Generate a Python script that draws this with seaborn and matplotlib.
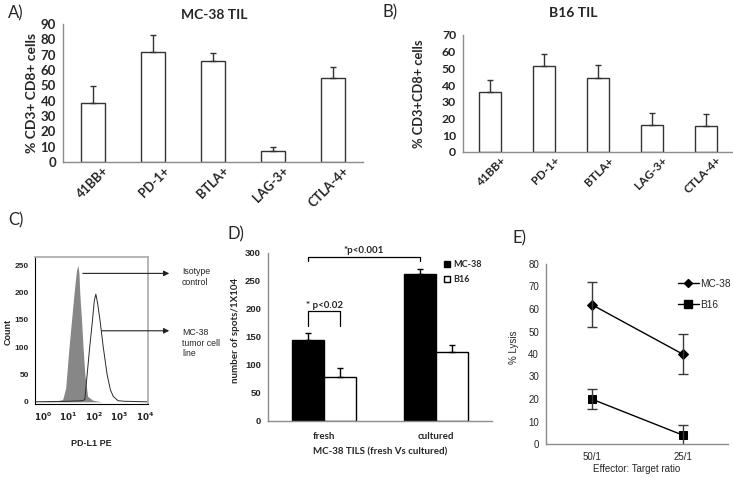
import numpy as np
import pandas as pd
import matplotlib
matplotlib.use("Agg")
import matplotlib.pyplot as plt
import matplotlib.transforms as mtransforms
import seaborn as sns
from matplotlib.lines import Line2D

# A) MC-38 TIL
markers = ["41BB+", "PD-1+", "BTLA+", "LAG-3+", "CTLA-4+"]
mc38_til_pct = [38.5, 72, 66, 7, 55]
mc38_til_err = [11, 11, 5, 2.5, 7]

# B) B16 TIL
b16_til_pct = [36, 51.5, 44.5, 16, 15.5]
b16_til_err = [7, 7, 7.5, 7.5, 7.5]

# C) PD-L1 flow histogram (log10 decade, count)
iso_x = [-0.3, 0.5, 0.78, 0.9, 1.03, 1.13, 1.23, 1.32, 1.38, 1.42, 1.45, 1.52, 1.58, 1.65, 1.76, 1.96, 2.3, 4.1]
iso_count = [0, 1, 4, 25, 100, 150, 200, 240, 250, 235, 200, 150, 100, 50, 10, 3, 0, 0]
pdl1_x = [-0.3, 1.0, 1.55, 1.65, 1.74, 1.84, 1.95, 2.02, 2.08, 2.15, 2.24, 2.37, 2.52, 2.65, 2.76, 2.95, 3.2, 4.1]
pdl1_count = [0, 1, 2, 4, 50, 100, 150, 185, 197, 180, 150, 100, 50, 22, 10, 2, 1, 0]

# D) ELISPOT, MC-38 TILs
tils = ["fresh", "cultured"]
spots_mc38 = [145, 262]
spots_mc38_err = [13, 10]
spots_b16 = [79, 123]
spots_b16_err = [15, 13]

# E) cytotoxicity
ratios = ["50/1", "25/1"]
lysis_mc38 = [62, 40]
lysis_mc38_err = [10, 9]
lysis_b16 = [20, 4]
lysis_b16_err = [4.5, 4.5]

AXIS_GREY = "#8c8c8c"
BAR_EDGE = "#333333"
ARIAL = ["Liberation Sans", "DejaVu Sans"]

sns.set_style("white")
plt.rcParams["font.family"] = ["Lato", "DejaVu Sans"]

fig = plt.figure(figsize=(7.33, 4.78), dpi=100)
W, H = 733, 478


def add_axes(x0, x1, y_top, y_bottom):
    # pixel box -> figure fraction
    return fig.add_axes([x0 / W, 1 - y_bottom / H, (x1 - x0) / W, (y_bottom - y_top) / H])


def excel_xaxis(ax, labels, pad, **text_kw):
    n = len(labels)
    ax.set_xlim(-0.5, n - 0.5)
    ax.set_xticks(np.arange(-0.5, n), labels=[])
    ax.tick_params(axis="x", which="major", length=4, width=0.8, color=AXIS_GREY, direction="out")
    ax.tick_params(axis="x", which="minor", length=0, pad=pad)
    ax.set_xticks(np.arange(n), labels=labels, minor=True, **text_kw)


def grey_spines(ax):
    for side in ["top", "right"]:
        ax.spines[side].set_visible(False)
    for side in ["left", "bottom"]:
        ax.spines[side].set_color(AXIS_GREY)
        ax.spines[side].set_linewidth(1)
    ax.tick_params(axis="y", length=3, width=0.8, color=AXIS_GREY, direction="out", pad=2)


def y_ticks(ax, ticks, **text_kw):
    ax.set_yticks(ticks, labels=[str(t) for t in ticks], **text_kw)


def til_panel(ax, values, errors, ymax, ylabel, fs):
    sns.barplot(x=markers, y=values, color="white", edgecolor=BAR_EDGE, linewidth=1,
                width=0.4, saturation=1, ax=ax)
    centers = [p.get_x() + p.get_width() / 2 for p in ax.patches]
    ax.errorbar(centers, values, yerr=[np.zeros(len(values)), errors], fmt="none",
                ecolor=BAR_EDGE, elinewidth=1, capsize=2.5, capthick=1)
    ax.set_ylim(0, ymax)
    grey_spines(ax)
    y_ticks(ax, list(range(0, ymax + 1, 10)), fontsize=fs, fontweight="bold")
    excel_xaxis(ax, markers, 2, rotation=45, ha="right", va="top", rotation_mode="anchor",
                fontsize=fs - 0.3, fontweight="bold")
    # nudge the slanted labels so they end at the category centre
    shift = mtransforms.ScaledTranslation(7 / 72, 0, fig.dpi_scale_trans)
    for lab in ax.get_xticklabels(minor=True):
        lab.set_transform(lab.get_transform() + shift)
    ax.set_xlabel("")
    ax.set_ylabel(ylabel, fontsize=fs + 0.5, fontweight="bold")


# ---- A ----
ax_a = add_axes(63, 363, 24, 162)
til_panel(ax_a, mc38_til_pct, mc38_til_err, 90, "% CD3+ CD8+ cells", 9.5)
ax_a.yaxis.set_label_coords(-0.085, 0.5)
fig.text(214 / W, 1 - 15 / H, "MC-38 TIL", ha="center", va="center", fontsize=10, fontweight="bold")
fig.text(8 / W, 1 - 5 / H, "A)", ha="left", va="top", fontsize=12)

# ---- B ----
ax_b = add_axes(463, 733, 35, 152)
til_panel(ax_b, b16_til_pct, b16_til_err, 70, "% CD3+CD8+ cells", 8.8)
ax_b.yaxis.set_label_coords(-0.14, 0.5)
fig.text(573 / W, 1 - 13 / H, "B16 TIL", ha="center", va="center", fontsize=10, fontweight="bold")
fig.text(382 / W, 1 - 4 / H, "B)", ha="left", va="top", fontsize=12)

# ---- C ----
ax_c = add_axes(35, 148, 257, 404)
ax_c.fill_between(iso_x, iso_count, color="#878787", lw=0)
sns.lineplot(x=pdl1_x, y=pdl1_count, sort=False, estimator=None, color="#2a2a2a", lw=0.7, ax=ax_c)
ax_c.set_xlim(-0.3, 4.12)
ax_c.set_ylim(-4, 265)
ax_c.tick_params(axis="both", which="major", length=3, width=0.6, direction="out", pad=1.5)
ax_c.tick_params(axis="both", which="minor", length=1.5, width=0.5, direction="out")
ax_c.set_xticks(range(5), labels=[r"$\mathbf{10^{%d}}$" % d for d in range(5)], fontsize=6.3)
minor_x = [d + np.log10(k) for d in range(-1, 5) for k in range(2, 10)]
ax_c.set_xticks([m for m in minor_x if -0.3 < m < 4.12], minor=True)
y_ticks(ax_c, list(range(0, 251, 50)), fontsize=6, fontweight="bold", family=ARIAL)
ax_c.set_yticks(range(0, 261, 10), minor=True)
for side in ["left", "bottom"]:
    ax_c.spines[side].set_color("black")
    ax_c.spines[side].set_linewidth(0.8)
for side in ["top", "right"]:
    ax_c.spines[side].set_color("#b0b0b0")
    ax_c.spines[side].set_linewidth(1.3)
ax_c.set_ylabel("Count", fontsize=6.5, fontweight="bold", family=ARIAL)
ax_c.yaxis.set_label_coords(-0.2, 0.49)
ax_c.set_xlabel("PD-L1 PE", fontsize=6.5, fontweight="bold", family=ARIAL)
ax_c.xaxis.set_label_coords(0.5, -0.24)
arrow_kw = dict(arrowstyle="-|>", color="#222222", lw=0.8, mutation_scale=8, shrinkA=0, shrinkB=0)
ax_c.annotate("", xy=(4.95, 235), xytext=(1.57, 235), arrowprops=arrow_kw, annotation_clip=False)
ax_c.annotate("", xy=(4.95, 130), xytext=(2.31, 130), arrowprops=arrow_kw, annotation_clip=False)
fig.text(182 / W, 1 - 267 / H, "Isotype\ncontrol", ha="left", va="top", fontsize=6.3,
         family=ARIAL, linespacing=1.25)
fig.text(182 / W, 1 - 328 / H, "MC-38\ntumor cell\nline", ha="left", va="top", fontsize=6.3,
         family=ARIAL, linespacing=1.25)
fig.text(8 / W, 1 - 212 / H, "C)", ha="left", va="top", fontsize=12)

# ---- D ----
ax_d = add_axes(268, 492, 253, 421)
df_d = pd.DataFrame({
    "til": tils * 2,
    "line": ["MC-38"] * len(tils) + ["B16"] * len(tils),
    "spots": spots_mc38 + spots_b16,
})
sns.barplot(data=df_d, x="til", y="spots", hue="line", palette=["black", "white"],
            edgecolor="black", linewidth=1, width=0.58, saturation=1, ax=ax_d)
bar_centers = []
for cont, vals, errs in zip(ax_d.containers, [spots_mc38, spots_b16], [spots_mc38_err, spots_b16_err]):
    xs = [b.get_x() + b.get_width() / 2 for b in cont]
    bar_centers.append(xs)
    ax_d.errorbar(xs, vals, yerr=[np.zeros(len(vals)), errs], fmt="none", ecolor="black",
                  elinewidth=1, capsize=2.5, capthick=1)
ax_d.set_ylim(0, 300)
grey_spines(ax_d)
y_ticks(ax_d, list(range(0, 301, 50)), fontsize=6.8, fontweight="bold", family=ARIAL)
excel_xaxis(ax_d, tils, 8, fontsize=7, fontweight="bold")
ax_d.set_xlabel("")
ax_d.set_ylabel("number of spots/1X104", fontsize=7, fontweight="bold")
ax_d.yaxis.set_label_coords(-0.125, 0.54)
fig.text(380 / W, 1 - 452 / H, "MC-38 TILS (fresh Vs cultured)", ha="center", va="center",
         fontsize=7, fontweight="bold")
# significance brackets
x_left, x_right = bar_centers[0][0], bar_centers[0][1]
ax_d.plot([x_left, x_left, x_right, x_right], [285, 293, 293, 285], color="black", lw=0.9)
ax_d.text((x_left + x_right) / 2, 296, "*p<0.001", ha="center", va="bottom", fontsize=7,
          fontweight="bold")
x_left, x_right = bar_centers[0][0], bar_centers[1][0]
ax_d.plot([x_left, x_left, x_right, x_right], [170, 196, 196, 170], color="black", lw=0.9)
ax_d.text((x_left + x_right) / 2, 199, "* p<0.02", ha="center", va="bottom", fontsize=7,
          fontweight="bold")
handles, labels = ax_d.get_legend_handles_labels()
ax_d.legend(handles, labels, loc="upper left", bbox_to_anchor=(0.77, 0.98), frameon=False,
            handlelength=0.7, handleheight=0.7, handletextpad=0.3, labelspacing=0.7,
            borderaxespad=0, prop={"size": 6.5, "weight": "bold"})
fig.text(228 / W, 1 - 226 / H, "D)", ha="left", va="top", fontsize=12)

# ---- E ----
ax_e = add_axes(546, 728, 264, 444)
df_e = pd.DataFrame({
    "ratio": ratios * 2,
    "line": ["MC-38"] * len(ratios) + ["B16"] * len(ratios),
    "lysis": lysis_mc38 + lysis_b16,
})
sns.pointplot(data=df_e, x="ratio", y="lysis", hue="line", markers=["D", "s"],
              linestyles=["-", "-"], palette=["black", "black"], errorbar=None,
              markersize=6, linewidth=1, legend=False, ax=ax_e)
for line in ax_e.lines:
    if line.get_marker() == "D":
        line.set_markersize(5)
        mc38_x = line.get_xdata()
    elif line.get_marker() == "s":
        b16_x = line.get_xdata()
ax_e.errorbar(mc38_x, lysis_mc38, yerr=lysis_mc38_err, fmt="none", ecolor="#3a3a3a",
              elinewidth=1, capsize=3.5, capthick=1)
ax_e.errorbar(b16_x, lysis_b16, yerr=lysis_b16_err, fmt="none", ecolor="#3a3a3a",
              elinewidth=1, capsize=3.5, capthick=1)
ax_e.set_ylim(0, 80)
grey_spines(ax_e)
y_ticks(ax_e, list(range(0, 81, 10)), fontsize=7, family=ARIAL)
excel_xaxis(ax_e, ratios, 6, fontsize=7, family=ARIAL)
ax_e.set_xlabel("Effector: Target ratio", fontsize=7, family=ARIAL)
ax_e.xaxis.set_label_coords(0.5, -0.11)
ax_e.set_ylabel("% Lysis", fontsize=7, family=ARIAL)
ax_e.yaxis.set_label_coords(-0.15, 0.54)
leg_handles = [
    Line2D([0], [0], color="black", lw=1, marker="D", markersize=4.5),
    Line2D([0], [0], color="black", lw=1, marker="s", markersize=5.5),
]
ax_e.legend(leg_handles, ["MC-38", "B16"], loc="upper right", bbox_to_anchor=(1.04, 0.94),
            frameon=False, handlelength=2.0, handletextpad=0.2, labelspacing=1.1,
            borderaxespad=0, prop={"family": ARIAL, "size": 7.3})
fig.text(512 / W, 1 - 230 / H, "E)", ha="left", va="top", fontsize=12)

fig.savefig("out.png", dpi=100)
